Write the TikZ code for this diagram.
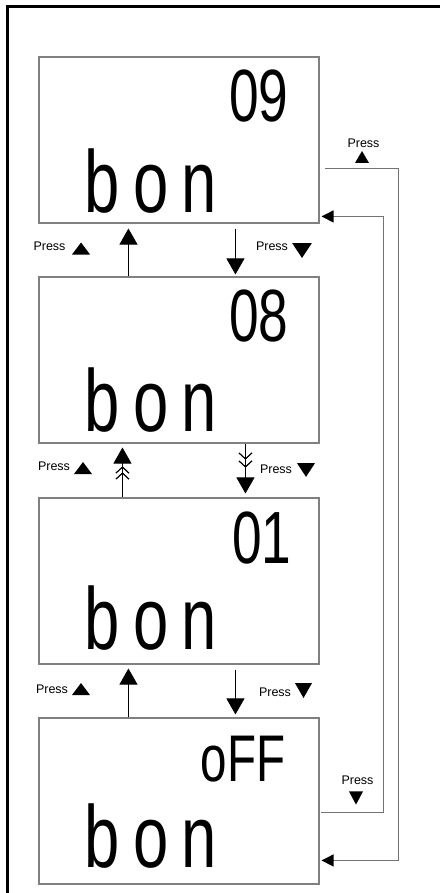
\documentclass[tikz,border=0pt]{standalone}
\usepackage{fontspec}
\setmainfont{Liberation Sans}
\newfontfamily\lcdfont{Liberation Sans}[FakeStretch=0.72]
\newfontfamily\lcdwordfont{Liberation Sans}[FakeStretch=0.72, LetterSpace=15]
\usepackage{xcolor}
\usepackage{tikz}
\usetikzlibrary{arrows.meta,positioning,calc,decorations.markings}

\tikzset{
    screen/.style={draw=gray, line width=1.1pt, minimum width=280pt, minimum height=166pt, inner sep=0pt},
    lcdnum/.style={font=\lcdfont\fontsize{74}{74}\selectfont, inner sep=0pt, anchor=base east},
    lcdword/.style={font=\lcdwordfont\fontsize{88}{88}\selectfont, inner sep=0pt, anchor=base west},
    press/.style={font=\fontsize{12.5}{12.5}\selectfont, inner sep=0pt},
    updown/.style={draw=black, line width=0.9pt, -{Triangle[width=18pt,length=16pt]}},
    loopline/.style={draw=gray!90!black, line width=1.2pt, -{Triangle[width=12pt,length=12pt,black]}},
    chev/.style={postaction=decorate, decoration={markings,
        mark=at position #1 with {\arrow{Straight Barb[width=13pt,length=6pt,line width=0.9pt]}}}},
    uptri/.pic={\fill (-9,6) -- (9,6) -- (0,-6) -- cycle;},
    downtri/.pic={\fill (-9,-6) -- (9,-6) -- (0,6) -- cycle;}
}

\begin{document}
\begin{tikzpicture}[x=1pt, y=-1pt]
        \useasboundingbox (0,0) rectangle (439,893);
        % Frame
        \draw[line width=3pt] (7.5,897) -- (7.5,6.5) -- (443,6.5);

        % Screens
        \node[screen] (s09) at (179,140) {};
        \node[screen] (s08) at (179,360) {};
        \node[screen] (s01) at (179,581) {};
        \node[screen] (soff) at (179,801) {};

        \node[lcdnum] (r09) at ($(s09.north east)+(-31,65)$) {09};
        \node[lcdword] (w09) at ($(s09.north west)+(46,156)$) {bon};
        \node[lcdnum] (r08) at ($(s08.north east)+(-31,65)$) {08};
        \node[lcdword] (w08) at ($(s08.north west)+(46,155)$) {bon};
        \node[lcdnum] (r01) at ($(s01.north east)+(-28,66)$) {01};
        \node[lcdword] (w01) at ($(s01.north west)+(46,152)$) {bon};
        \node[lcdnum, font=\lcdfont\fontsize{66}{66}\selectfont] (roff) at ($(soff.north east)+(-34,64)$) {oFF};
        \node[lcdword] (woff) at ($(soff.north west)+(46,150)$) {bon};

        % 09 <-> 08
        \draw[updown, shorten >=5pt] ($(s08.north west)+(90,0)$) -- ($(s09.south west)+(90,0)$);
        \draw[updown, shorten <=5pt, shorten >=2pt] ($(s09.south west)+(197,0)$) -- ($(s08.north west)+(197,0)$);
        \node[press] (pu1) at (49.5,246) {Press};
        \pic at (81,248.5) {uptri};
        \node[press] (pd1) at (272,246) {Press};
        \pic[xscale=1.1, yscale=1.25] at (302,250.5) {downtri};

        % 08 <-> 01 (skipped steps)
        \draw[updown, chev=25pt, chev=31pt] ($(s01.north west)+(84,0)$) -- ($(s08.south west)+(84,4)$);
        \draw[updown, chev=16pt, chev=24pt] ($(s08.south west)+(207,0)$) -- ($(s01.north west)+(207,-4)$);
        \node[press] (pu2) at (54,466) {Press};
        \pic at (83,468) {uptri};
        \node[press] (pd2) at (276,469) {Press};
        \pic[yscale=1.15] at (306,470) {downtri};

        % 01 <-> oFF
        \draw[updown, shorten >=4pt] ($(soff.north west)+(90,0)$) -- ($(s01.south west)+(90,0)$);
        \draw[updown, shorten <=5pt, shorten >=3pt] ($(s01.south west)+(197,0)$) -- ($(soff.north west)+(197,0)$);
        \node[press] (pu3) at (52,689) {Press};
        \pic at (81,689) {uptri};
        \node[press] (pd3) at (275,692) {Press};
        \pic[xscale=0.95, yscale=1.25] at (303.5,690.5) {downtri};

        % Wrap around
        \draw[loopline] ($(s09.north east)+(5,112)$) -- ++(74,0) |- ($(soff.north east)+(2,143)$);
        \draw[loopline] ($(soff.north east)+(1,95)$) -- ++(63,0) |- ($(s09.north east)+(2,160)$);
        \node[press] (pw1) at (363.5,143) {Press};
        \pic[xscale=0.78] at (362,157) {uptri};
        \node[press] (pw2) at (357.5,780) {Press};
        \pic[xscale=0.78, yscale=1.1] at (356,798) {downtri};
    \end{tikzpicture}
\end{document}
